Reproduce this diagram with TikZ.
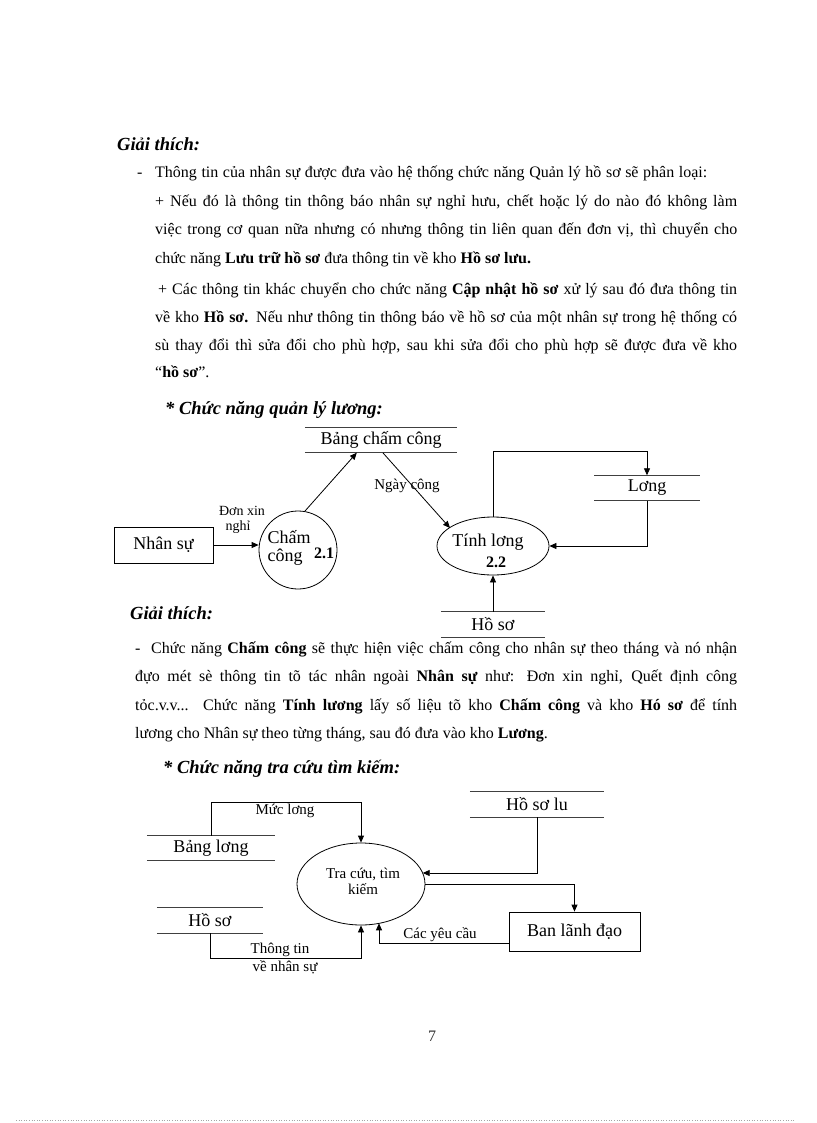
\documentclass[tikz,border=0pt]{standalone}
\usepackage{fontspec}
\setmainfont{Liberation Serif}
\usetikzlibrary{arrows.meta,calc,shapes.geometric}
\newcommand\fsz[1]{\fontsize{#1}{#1}\selectfont}
\begin{document}
\begin{tikzpicture}[x=1pt,y=-1pt,
  txt/.style={anchor=base west, inner sep=0pt, font=\fsz{16}},
  head/.style={anchor=base west, inner sep=0pt, font=\fsz{18.5}\bfseries\itshape},
  big/.style={font=\fsz{18}, inner sep=0pt},
  small/.style={font=\fsz{15}, inner sep=0pt},
  tiny/.style={font=\fsz{14}, inner sep=0pt},
  store/.style={minimum width=#1, minimum height=25pt, inner sep=0pt, font=\fsz{18}},
  sline/.style={line width=0.8pt, black!75},
  ln/.style={line width=0.8pt},
  arr/.style={-{Triangle[length=7pt,width=6pt]}, line width=0.8pt}]
\useasboundingbox (0,0) rectangle (816,1123);
\fill[white] (0,0) rectangle (816,1123);

% ---------- first explanation ----------
\node[head] (h1) at (117,151) {Giải thích:};
\node[txt] (l1d) at (137,178) {-};
\node[txt] (l1) at (155,178) {\makebox[552pt][s]{Thông tin của nhân sự được đưa vào hệ thống chức năng Quản lý hồ sơ sẽ phân loại:}};
\node[txt] (l2) at (155,207) {\makebox[582pt][s]{+ Nếu đó là thông tin thông báo nhân sự nghỉ hưu, chết hoặc lý do nào đó không làm}};
\node[txt] (l3) at (155,235) {\makebox[582pt][s]{việc trong cơ quan nữa nhưng có nhưng thông tin liên quan đến đơn vị, thì chuyển cho}};
\node[txt] (l4) at (155,263) {chức năng \textbf{Lưu trữ hồ sơ} đưa thông tin về kho \textbf{Hồ sơ lưu.}};
\node[txt] (l5) at (158,294) {\makebox[579pt][s]{+ Các thông tin khác chuyển cho chức năng \textbf{Cập nhật hồ sơ} xử lý sau đó đưa thông tin}};
\node[txt] (l6) at (155,322) {\makebox[582pt][s]{về kho \textbf{Hồ sơ.} Nếu như thông tin thông báo về hồ sơ của một nhân sự trong hệ thống có}};
\node[txt] (l7) at (155,350) {\makebox[582pt][s]{sù thay đổi thì sửa đổi cho phù hợp, sau khi sửa đổi cho phù hợp sẽ được đưa về kho}};
\node[txt] (l8) at (155,377) {“\textbf{hồ sơ}”.};
\node[head] (h2) at (165,414) {* Chức năng quản lý lương:};

% ---------- diagram 1 ----------
\node[store=152pt] (bcc) at (381,440) {Bảng chấm công};
\draw[sline] (bcc.north west) -- (bcc.north east) (bcc.south west) -- (bcc.south east);
\node[store=105pt] (luong) at (647,488) {Lơng};
\draw[sline] (luong.north west) -- (luong.north east) (luong.south west) -- (luong.south east);
\node[store=104pt] (hs1) at (493,624.5) {Hồ sơ};
\draw[sline] (hs1.north west) -- (hs1.north east) (hs1.south west) -- (hs1.south east);

\node[draw, ln, big, minimum width=99pt, minimum height=36pt] (ns) at (163.5,545) {Nhân sự};
\node[draw, ln, circle, minimum size=78pt, inner sep=0pt] (cc) at (298,550) {};
\node[big] (cct1) at (289,537) {Chấm};
\node[big] (cct2) at (285,557) {công};
\node[font=\fsz{16}\bfseries, inner sep=0pt] (cct3) at (324,553) {2.1};
\node[draw, ln, ellipse, minimum width=112pt, minimum height=58pt, inner sep=0pt] (tl) at (493,546) {};
\node[big] (tlt1) at (488,542) {Tính lơng};
\node[font=\fsz{16}\bfseries, inner sep=0pt] (tlt2) at (496,562) {2.2};

\draw[arr] (ns.east) -- (ns.east -| cc.west);
\node[tiny] (dx1) at (242,511) {Đơn xin};
\node[tiny] (dx2) at (238,527) {nghỉ};
\draw[arr] (cc.80) -- ($(bcc.south west)+(52,0)$);
\draw[arr] ($(bcc.south west)+(78,0)$) -- ($(tl.center)+(-43,-18)$);
\node[small] (nc) at (407,486) {Ngày công};
\coordinate (lr) at (647,451);
\draw[arr] (tl.north) |- (lr) -- (luong.north);
\draw[arr] (luong.south) |- (tl.east);
\draw[arr] (hs1.north) -- (tl.south);

% ---------- second explanation ----------
\node[head] (h3) at (130,619) {Giải thích:};
\node[txt] (m1) at (135,653) {\makebox[602pt][s]{-\ \ Chức năng \textbf{Chấm công} sẽ thực hiện việc chấm công cho nhân sự theo tháng và nó nhận}};
\node[txt] (m2) at (135,681) {\makebox[602pt][s]{đựo mét sè thông tin tõ tác nhân ngoài \textbf{Nhân sự} như: Đơn xin nghỉ, Quết định công}};
\node[txt] (m3) at (135,710) {\makebox[602pt][s]{tỏc.v.v... Chức năng \textbf{Tính lương} lấy số liệu tõ kho \textbf{Chấm công} và kho \textbf{Hó sơ} để tính}};
\node[txt] (m4) at (135,738) {lương cho Nhân sự theo từng tháng, sau đó đưa vào kho \textbf{Lương}.};
\node[head] (h4) at (163,773) {* Chức năng tra cứu tìm kiếm:};

% ---------- diagram 2 ----------
\node[store=128pt, minimum height=24pt] (blg) at (211,848) {Bảng lơng};
\draw[sline] (blg.north west) -- (blg.north east) (blg.south west) -- (blg.south east);
\node[store=106pt] (hs2) at (210,920.5) {Hồ sơ};
\draw[sline] (hs2.north west) -- (hs2.north east) (hs2.south west) -- (hs2.south east);
\node[store=134pt] (hsl) at (537,804.5) {Hồ sơ lu};
\draw[sline] (hsl.north west) -- (hsl.north east) (hsl.south west) -- (hsl.south east);

\node[draw, ln, ellipse, minimum width=128pt, minimum height=82pt, inner sep=0pt] (tc) at (361,884) {};
\node[font=\fontsize{15}{16}\selectfont, align=center, inner sep=0pt] (tct) at (363,881) {Tra cứu, tìm\\kiếm};
\node[draw, ln, big, minimum width=131pt, minimum height=39pt] (ban) at (574.5,931.5) {Ban lãnh đạo};

\coordinate (mq) at (361,802);
\draw[arr] (blg.north) |- (mq) -- (tc.north);
\node[small] (ml) at (285,811) {Mức lơng};
\draw[arr] (hsl.south) |- ($(tc.center)+(61.7,-11)$);
\draw[arr] (tc.east) -| (ban.north);
\draw[arr] ($(ban.west)+(0,11.5)$) -| ($(tc.center)+(18,39.3)$);
\node[small] (cyc) at (440,935) {Các yêu cầu};
\coordinate (tq) at (361,958);
\draw[arr] (hs2.south) |- (tq) -- (tc.south);
\node[small] (tt1) at (280,950) {Thông tin};
\node[small] (tt2) at (285,967) {về nhân sự};

% ---------- footer ----------
\node[font=\fsz{16}, text=black!80, anchor=base, inner sep=0pt] (pg) at (432,1041) {7};
\draw[black!35, dotted, line width=0.6pt] (16,1120) -- (795,1120);
\end{tikzpicture}
\end{document}
